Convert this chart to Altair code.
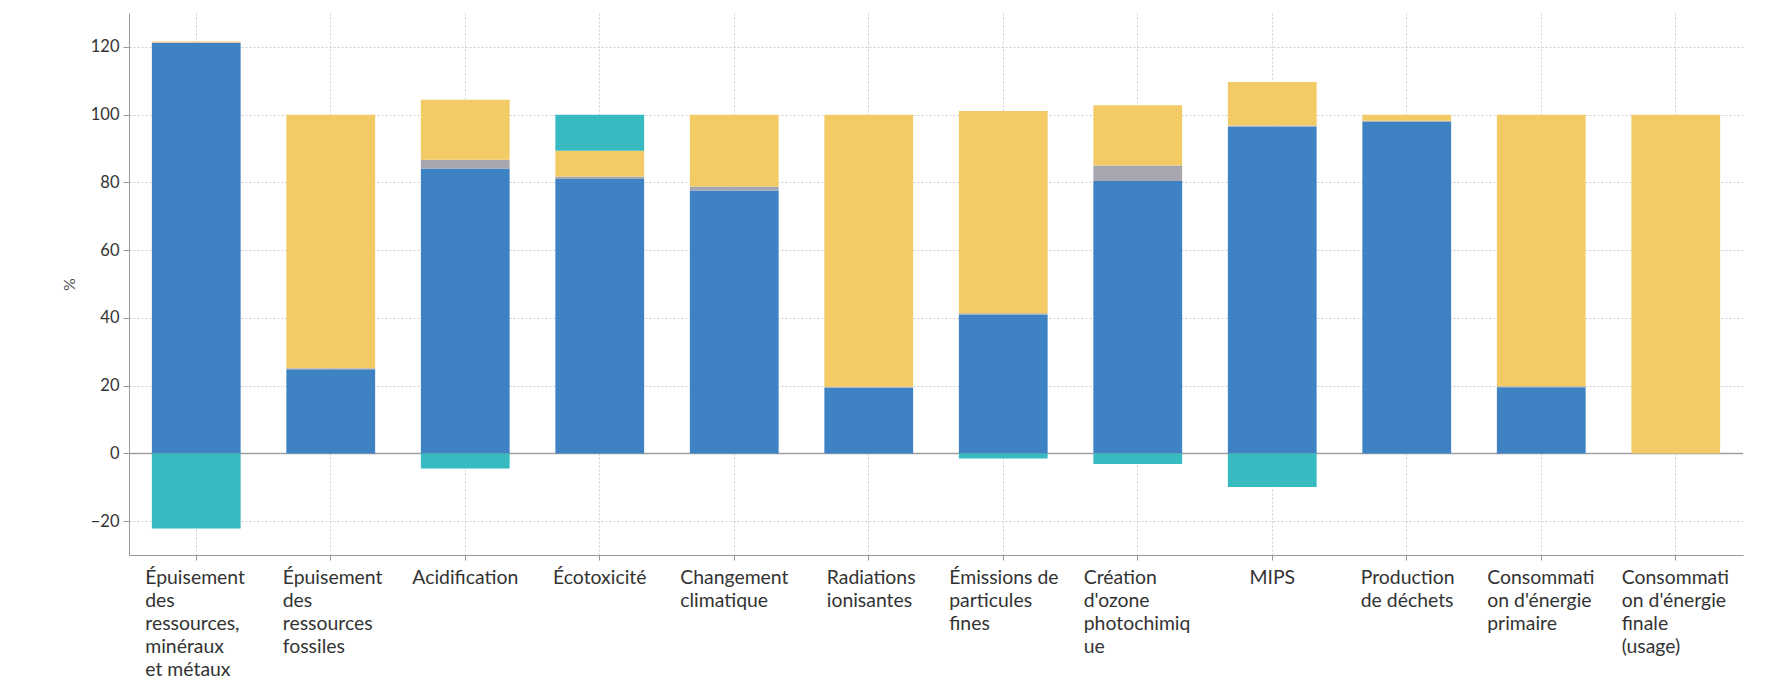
import altair as alt
import pandas as pd

categories = [
    "Épuisement\ndes\nressources,\nminéraux\net métaux",
    "Épuisement\ndes\nressources\nfossiles",
    "Acidification",
    "Écotoxicité",
    "Changement\nclimatique",
    "Radiations\nionisantes",
    "Émissions de\nparticules\nfines",
    "Création\nd'ozone\nphotochimiq\nue",
    "MIPS",
    "Production\nde déchets",
    "Consommati\non d'énergie\nprimaire",
    "Consommati\non d'énergie\nfinale\n(usage)",
]

series_names = ["Fabrication", "Distribution", "Utilisation", "Fin de vie"]
fabrication = [121.2, 24.8, 84.1, 81.0, 77.6, 19.4, 41.0, 80.4, 96.5, 97.9, 19.5, 0.0]
distribution = [0.1, 0.3, 2.6, 0.7, 1.2, 0.3, 0.4, 4.6, 0.3, 0.3, 0.3, 0.0]
utilisation = [0.3, 74.9, 17.7, 7.6, 21.2, 80.3, 59.7, 17.8, 12.8, 1.8, 80.2, 100.0]
fin_de_vie = [-22.2, 0.0, -4.5, 10.7, 0.0, 0.0, -1.5, -3.1, -9.9, 0.0, 0.0, 0.0]
y_ticks = [-20, 0, 20, 40, 60, 80, 100, 120]

series_colors = ["#3e82c3", "#a8a7b0", "#f2cb67", "#37bbc1"]

rows = []
for idx, (name, vals) in enumerate(
    zip(series_names, [fabrication, distribution, utilisation, fin_de_vie])
):
    for cat, v in zip(categories, vals):
        rows.append({"categorie": cat, "phase": name, "ordre": idx, "valeur": v})
df = pd.DataFrame(rows)

# half width of the widest line of each wrapped label (block centred, lines left aligned)
label_half_width = {
    "minéraux": 51,
    "fossiles": 48,
    "Changement": 54,
    "Radiations": 42,
    "Émissions": 54,
    "photochimiq": 54,
    "Production": 46,
    "Consommati": 54,
}

label_align = {
    "condition": {"test": "indexof(datum.value, '\\n') >= 0", "value": "left"},
    "value": "center",
}
label_offset = {
    "condition": [
        {"test": f"indexof(datum.value, '{k}') >= 0", "value": -v}
        for k, v in label_half_width.items()
    ],
    "value": 0,
}

x_axis = alt.Axis(
    title=None,
    labelExpr="split(datum.value, '\\n')",
    labelAngle=0,
    labelAlign=label_align,
    labelOffset=label_offset,
    labelBaseline="alphabetic",
    labelFontSize=19.4,
    labelLineHeight=23,
    labelPadding=23,
    labelColor="#333333",
    labelOverlap=False,
    labelLimit=300,
    tickSize=5,
    tickColor="#999999",
    domainColor="#999999",
    grid=True,
    gridColor="#d0d0d0",
    gridDash=[2, 2],
)

y_axis = alt.Axis(
    title="%",
    values=y_ticks,
    labelFontSize=16.5,
    labelColor="#333333",
    labelPadding=4,
    tickSize=6,
    tickColor="#999999",
    domainColor="#999999",
    grid=True,
    gridColor="#cccccc",
    gridDash=[2, 2],
    titleFontSize=16,
    titleFontWeight="normal",
    titleColor="#555555",
    titleX=-60,
    titleBaseline="middle",
)

zero_line = alt.Chart(pd.DataFrame({"z": [0]})).mark_rule(
    color="#a0a0a0", strokeWidth=1.5
).encode(y=alt.datum(0))

bars = (
    alt.Chart(df)
    .transform_filter("datum.valeur != 0")
    .mark_bar(strokeWidth=0)
    .encode(
        x=alt.X(
            "categorie:N",
            sort=categories,
            scale=alt.Scale(paddingInner=0.34, paddingOuter=0.17),
            axis=x_axis,
        ),
        y=alt.Y(
            "valeur:Q",
            stack="zero",
            scale=alt.Scale(domain=[-30, 130], nice=False),
            axis=y_axis,
        ),
        color=alt.Color(
            "phase:N",
            scale=alt.Scale(domain=series_names, range=series_colors),
            legend=None,
        ),
        order=alt.Order("ordre:Q", sort="ascending"),
    )
)

chart = (
    alt.layer(zero_line, bars)
    .properties(
        width=1614,
        height=542,
        autosize=alt.AutoSizeParams(type="none"),
        padding={"left": 121, "top": 5, "right": 20, "bottom": 127},
    )
    .configure_view(stroke=None)
    .configure_axis(labelFont="Lato", titleFont="Lato")
)

chart.save("out.html", embed_options={"renderer": "svg", "actions": False})
